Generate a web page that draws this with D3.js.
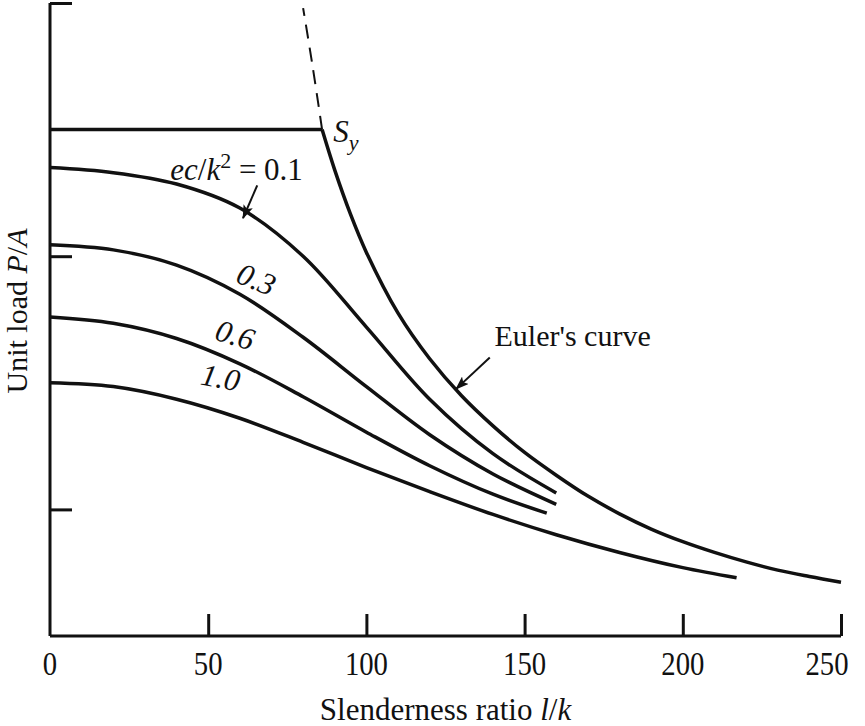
<!DOCTYPE html>
<html lang="en">
<head>
    <meta charset="UTF-8">
    <title>Column curves</title>
    <script src="https://cdn.jsdelivr.net/npm/d3@7"></script>
    <style>
        body { margin: 0; background: #ffffff; }
        text { font-family: "Liberation Serif", "Times New Roman", serif; fill: #111; }
    </style>
</head>
<body>
<div id="container"></div>
<script>
    // values: slenderness ratio l/k against unit load P/A
    const xTicks = [50, 100, 150, 200, 250];
    const yTicks = [10, 30, 50];
    const xTickLabels = ["0", "50", "100", "150", "200", "250"];
    const yieldLine = [[0, 40], [86, 40]];
    const eulerDashed = [[86, 40], [83, 45], [80, 49.6]];
    const eulerSolid = [[86, 40], [90, 36.8], [95, 33.3], [100, 30.3], [110, 25.5], [120, 21.9], [130, 19.0],
        [140, 16.6], [150, 14.5], [160, 12.7], [170, 11.05], [180, 9.65], [190, 8.45], [200, 7.45], [210, 6.6],
        [220, 5.85], [230, 5.2], [240, 4.7], [250, 4.25]];
    const ecLabels = ["0.1", "0.3", "0.6", "1.0"];
    const secant01 = [[0, 37.0], [20, 36.6], [40, 35.7], [60, 33.8], [80, 30.0], [100, 24.4], [120, 18.7], [140, 14.4], [160, 11.3]];
    const secant03 = [[0, 30.9], [20, 30.5], [40, 29.3], [60, 27.0], [80, 23.6], [100, 19.7], [120, 15.9], [140, 12.8], [160, 10.4]];
    const secant06 = [[0, 25.2], [20, 24.7], [40, 23.5], [60, 21.5], [80, 18.9], [100, 16.1], [120, 13.45], [140, 11.2], [157, 9.7]];
    const secant10 = [[0, 20.0], [20, 19.7], [40, 18.7], [60, 17.2], [80, 15.3], [100, 13.3], [120, 11.4], [140, 9.6],
        [160, 8.0], [180, 6.6], [200, 5.4], [217, 4.6]];

    let width = 865, height = 726;
    let svg = d3.select("#container")
        .append("svg")
        .attr("width", width)
        .attr("height", height)
        .style("background-color", "#ffffff");

    let x = d3.scaleLinear().domain([0, 250]).range([50, 841]);
    let y = d3.scaleLinear().domain([0, 50]).range([636, 3]);

    svg.append("defs").append("marker")
        .attr("id", "head")
        .attr("viewBox", "0 0 14 10")
        .attr("refX", 13).attr("refY", 5)
        .attr("markerWidth", 14).attr("markerHeight", 10)
        .attr("markerUnits", "userSpaceOnUse")
        .attr("orient", "auto")
        .append("path")
        .attr("d", "M0,0 L14,5 L0,10 L3,5 Z")
        .attr("fill", "#111");

    // axes, ticks pointing inward
    let xAxis = svg.append("g")
        .attr("transform", "translate(0," + y(0) + ")")
        .call(d3.axisTop(x).tickValues(xTicks).tickSize(22).tickFormat(""));
    xAxis.select(".domain").attr("d", "M" + x(0) + ",0H" + x(250));
    svg.selectAll("g.xl").data([0].concat(xTicks)).enter()
        .append("text")
        .attr("transform", (d, i) => "translate(" + (i === 5 ? x(d) - 14 : x(d)) + "," + (y(0) + 39) + ") scale(0.87,1)")
        .attr("text-anchor", "middle")
        .style("font-size", "33px")
        .text((d, i) => xTickLabels[i]);

    let yAxis = svg.append("g")
        .attr("transform", "translate(" + x(0) + ",0)")
        .call(d3.axisRight(y).tickValues(yTicks).tickSize(22).tickFormat(""));
    yAxis.select(".domain").attr("d", "M0," + y(0) + "V" + y(50));
    svg.selectAll(".domain, .tick line").attr("stroke", "#111").attr("stroke-width", 3);

    svg.append("text")
        .attr("x", (x(0) + x(250)) / 2)
        .attr("y", 720)
        .attr("text-anchor", "middle")
        .style("font-size", "31px")
        .html("Slenderness ratio <tspan font-style='italic'>l</tspan>/<tspan font-style='italic'>k</tspan>");

    svg.append("text")
        .attr("transform", "translate(27," + 311 + ") rotate(-90)")
        .attr("text-anchor", "middle")
        .style("font-size", "30px")
        .html("Unit load <tspan font-style='italic'>P</tspan>/<tspan font-style='italic'>A</tspan>");

    let line = d3.line()
        .x(d => x(d[0]))
        .y(d => y(d[1]));
    let smooth = d3.line()
        .x(d => x(d[0]))
        .y(d => y(d[1]))
        .curve(d3.curveCatmullRom.alpha(0.5));

    svg.append("path").datum(yieldLine).attr("d", line)
        .attr("fill", "none").attr("stroke", "#111").attr("stroke-width", 3.5);
    svg.append("path").datum(eulerDashed).attr("d", smooth)
        .attr("fill", "none").attr("stroke", "#111").attr("stroke-width", 2)
        .attr("stroke-dasharray", "14,9");

    [eulerSolid, secant01, secant03, secant06, secant10].forEach(s => {
        svg.append("path").datum(s).attr("d", smooth)
            .attr("fill", "none").attr("stroke", "#111").attr("stroke-width", 3.5);
    });

    // labels
    svg.append("text")
        .attr("x", x(89.5)).attr("y", y(39.0))
        .style("font-size", "31px").style("font-style", "italic")
        .html("S<tspan dy='8' font-size='22px'>y</tspan>");

    svg.append("text")
        .attr("x", x(38)).attr("y", y(36.0))
        .style("font-size", "31px")
        .html("<tspan font-style='italic'>ec</tspan>/<tspan font-style='italic'>k</tspan><tspan dy='-12' font-size='22px'>2</tspan><tspan dy='12'> = " + ecLabels[0] + "</tspan>");

    let rotLabels = [[ecLabels[1], 64.0, 27.4, 22], [ecLabels[2], 57.5, 23.0, 17], [ecLabels[3], 53.3, 19.6, 11]];
    rotLabels.forEach(r => {
        svg.append("text")
            .attr("transform", "translate(" + x(r[1]) + "," + y(r[2]) + ") rotate(" + r[3] + ")")
            .attr("text-anchor", "middle")
            .style("font-size", "31px").style("font-style", "italic")
            .text(r[0]);
    });

    svg.append("text")
        .attr("x", x(140.5)).attr("y", y(22.9))
        .style("font-size", "30px")
        .text("Euler's curve");

    // arrows
    let arrows = [[[65.5, 35.6], [61, 33.0]], [[139, 22.0], [128.3, 19.5]]];
    arrows.forEach(a => {
        svg.append("path").datum(a).attr("d", line)
            .attr("fill", "none").attr("stroke", "#111").attr("stroke-width", 2)
            .attr("marker-end", "url(#head)");
    });
</script>
</body>
</html>
